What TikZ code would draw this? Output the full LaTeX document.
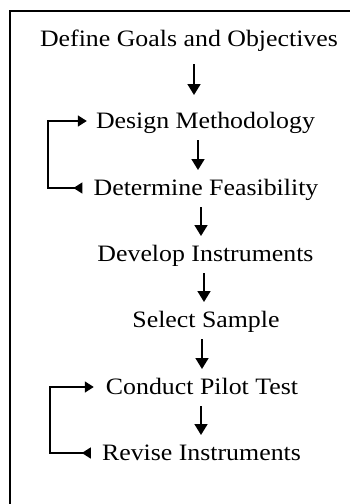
\documentclass[tikz,border=0pt]{standalone}
\usepackage{fontspec}
\setmainfont{Liberation Serif}[FakeStretch=1.1]
\usetikzlibrary{arrows.meta}
\tikzset{
    lbl/.style ={inner sep=0pt, text height=15.6pt, text depth=0pt,
                 font=\fontsize{23.5}{28}\selectfont},
    nxt/.style ={-{Triangle[length=11pt, width=13pt]}, line width=1.7pt,
                 shorten <=11pt, shorten >=10pt},
    ret/.style ={{Triangle[length=9pt, width=11pt]}-{Triangle[length=9pt, width=11pt, reversed]},
                 line width=1.6pt},
    rim/.style ={line width=2.4pt},
}

\begin{document}
\begin{tikzpicture}[x=1pt, y=-1pt]
\useasboundingbox[fill=white] (0,0) rectangle (350,504);

% ===================== marco =====================
\draw[rim] (350,11) -| (10,504);

% ===================== pasos =====================
\node[lbl] (goals)  at (189,39)    {Define Goals and Objectives};
\node[lbl] (design) at (205.5,121) {Design Methodology};
\node[lbl] (feas)   at (206,188)   {Determine Feasibility};
\node[lbl] (devel)  at (205.5,254) {Develop Instruments};
\node[lbl] (sample) at (206,320)   {Select Sample};
\node[lbl] (pilot)  at (202,387)   {Conduct Pilot Test};
\node[lbl] (revise) at (201.5,453) {Revise Instruments};

% ===================== flechas hacia abajo =====================
\draw[nxt, shorten <=17pt, shorten >=18pt]
      ([xshift=5pt]goals.south) -- ([xshift=-11.5pt]design.north);
\draw[nxt] ([xshift=-7.5pt]design.south) -- ([xshift=-8pt]feas.north);
\draw[nxt] ([xshift=-5pt]feas.south)     -- ([xshift=-4.5pt]devel.north);
\draw[nxt] ([xshift=-1.5pt]devel.south)  -- ([xshift=-2pt]sample.north);
\draw[nxt] ([xshift=-4pt]sample.south)   -- (pilot.north);
\draw[nxt] ([xshift=-1pt]pilot.south)    -- ([xshift=-0.5pt]revise.north);

% ===================== retornos =====================
\draw[ret, shorten <=9pt, shorten >=11pt]
      (design.west) -- ++(-48,0) |- (feas.west);
\draw[ret, shorten <=12pt, shorten >=11pt]
      (pilot.west) -- ++(-56,0) |- (revise.west);

\end{tikzpicture}
\end{document}
